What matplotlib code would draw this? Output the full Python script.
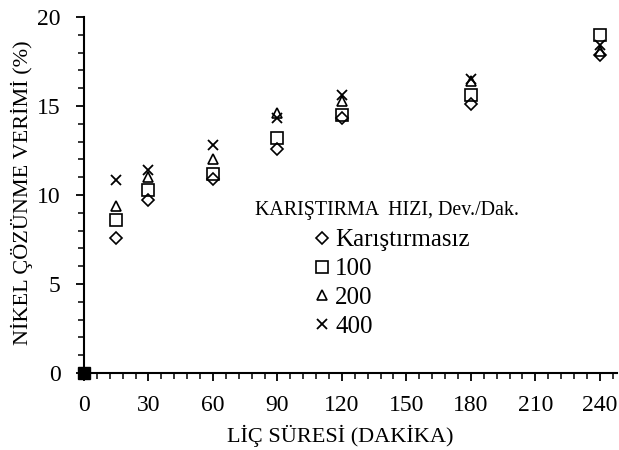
import matplotlib
matplotlib.use("Agg")
import matplotlib.pyplot as plt
from matplotlib.ticker import MultipleLocator

plt.rcParams['font.family'] = ['Liberation Serif', 'DejaVu Serif']

time_min = [15, 30, 60, 90, 120, 180, 240]
unstirred = [7.6, 9.7, 10.9, 12.6, 14.3, 15.1, 17.85]
rpm100 = [8.6, 10.3, 11.2, 13.2, 14.5, 15.6, 19.0]
rpm200 = [9.4, 11.0, 12.0, 14.6, 15.3, 16.4, 18.1]
rpm400 = [10.85, 11.4, 12.8, 14.3, 15.6, 16.5, 18.4]
labels = ['Karıştırmasız', '100', '200', '400']
xticks = [0, 30, 60, 90, 120, 150, 180, 210, 240]
yticks = [0, 5, 10, 15, 20]

W, H = 619, 450
fig = plt.figure(figsize=(W/100, H/100), dpi=100)
ax = fig.add_axes([84/W, 1-373/H, (617-84)/W, (373-17)/H])

ax.plot(time_min, unstirred, linestyle='none', marker='D', markersize=6,
        mfc='none', mec='black', mew=1.2, label=labels[0])
ax.plot(time_min, rpm100, linestyle='none', marker='s', markersize=8,
        mfc='none', mec='black', mew=1.2, label=labels[1])
ax.plot(time_min, rpm200, linestyle='none', marker='^', markersize=7.5,
        mfc='none', mec='black', mew=1.2, label=labels[2])
ax.plot(time_min, rpm400, linestyle='none', marker='x', markersize=7.5,
        mec='black', mew=1.3, label=labels[3])
ax.plot([0], [0], linestyle='none', marker='s', markersize=9, color='black',
        clip_on=False, zorder=5)

ax.set_xlim(0, 248)
ax.set_ylim(0, 20)
ax.set_xticks(xticks)
ax.set_yticks(yticks)
ax.xaxis.set_minor_locator(MultipleLocator(6))
ax.yaxis.set_minor_locator(MultipleLocator(1))
for s in ['top', 'right']:
    ax.spines[s].set_visible(False)
for s in ['left', 'bottom']:
    ax.spines[s].set_linewidth(1.5)
ax.tick_params(which='major', direction='out', length=6, width=1.3, labelsize=17)
ax.tick_params(axis='x', which='major', pad=10)
ax.tick_params(axis='y', which='major', pad=11)
ax.tick_params(which='minor', direction='out', length=4, width=1.1)
ax.set_xlabel('LİÇ SÜRESİ (DAKİKA)', fontsize=16)
ax.set_ylabel('NİKEL ÇÖZÜNME VERİMİ (%)', fontsize=16)
ax.xaxis.set_label_coords((340-84)/(617-84), -(436-373)/(373-17))
ax.yaxis.set_label_coords(-(84-22)/(617-84), (373-193)/(373-17))
ax.xaxis.label.set_va('center')
ax.yaxis.label.set_va('center')

leg = ax.legend(loc='upper left', bbox_to_anchor=(316/W, 1-229/H),
                bbox_transform=fig.transFigure, frameon=False,
                fontsize=18, handlelength=0.5, handletextpad=0.27,
                labelspacing=0.25, borderpad=0, borderaxespad=0,
                markerscale=1.0)
fig.text(255/W, 1-210/H, 'KARIŞTIRMA  HIZI, Dev./Dak.', fontsize=14.4,
         ha='left', va='center')

fig.savefig('out.png', dpi=100)
